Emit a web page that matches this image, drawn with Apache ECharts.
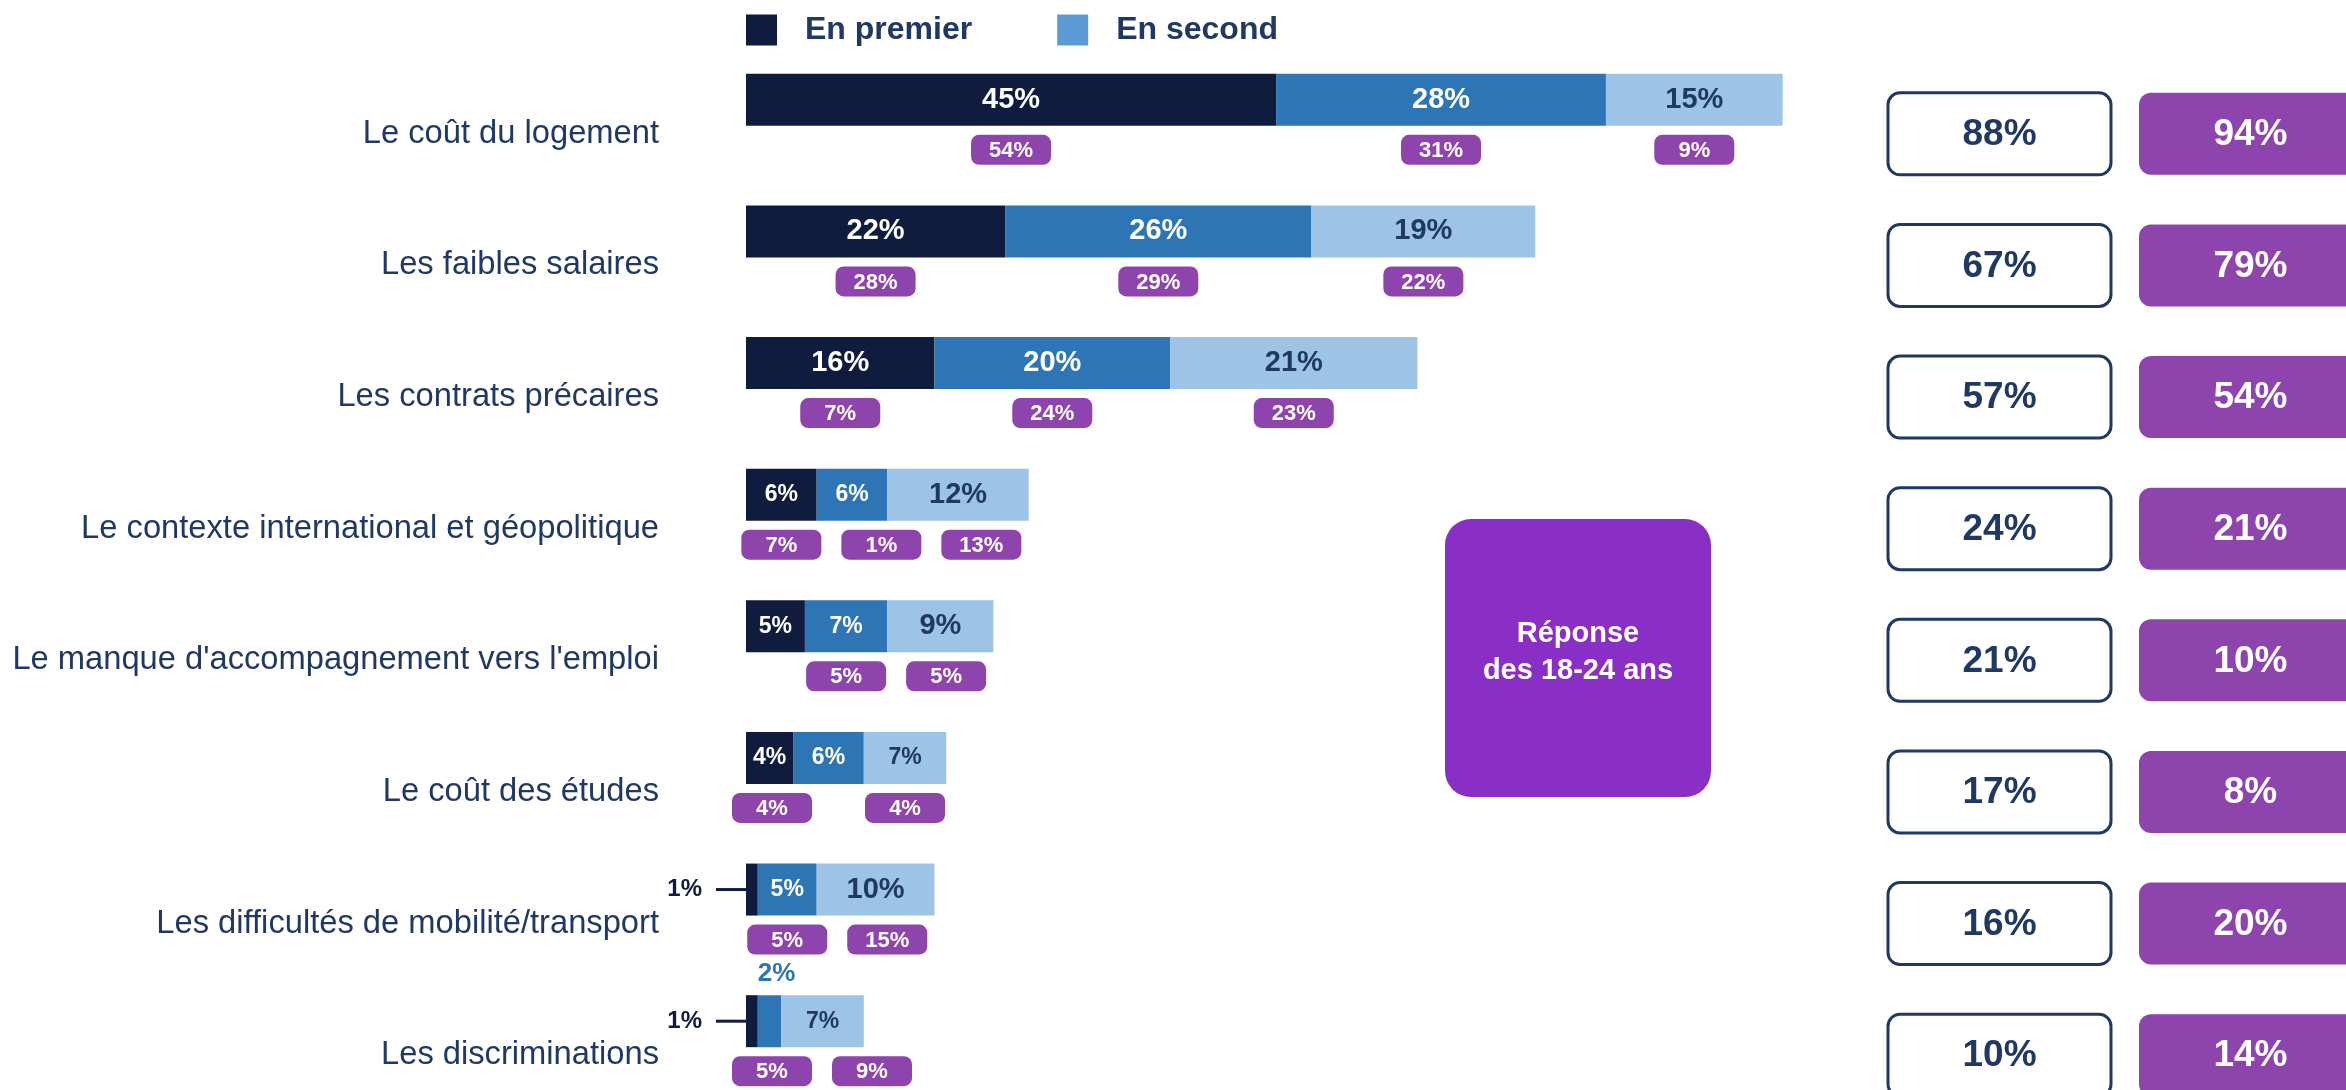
<!DOCTYPE html>
<html><head><meta charset="utf-8">
<script src="https://cdn.jsdelivr.net/npm/echarts@6/dist/echarts.min.js"></script>
<style>html,body{margin:0;padding:0;background:#fff}#chart{width:2346px;height:1090px}</style>
</head><body><div id="chart"></div>
<script>
// ---- data ----
const categories = [
  "Le coût du logement",
  "Les faibles salaires",
  "Les contrats précaires",
  "Le contexte international et géopolitique",
  "Le manque d'accompagnement vers l'emploi",
  "Le coût des études",
  "Les difficultés de mobilité/transport",
  "Les discriminations"
];
const seriesNames = ["En premier", "En second", "En troisième"];
const enPremier   = [45, 22, 16, 6, 5, 4, 1, 1];
const enSecond    = [28, 26, 20, 6, 7, 6, 5, 2];
const enTroisieme = [15, 19, 21, 12, 9, 7, 10, 7];
// Réponse des 18-24 ans (badges under each segment)
const jeunesPremier   = [54, 28, 7, 7, null, 4, null, null];
const jeunesSecond    = [31, 29, 24, 1, 5, null, 5, 5];
const jeunesTroisieme = [9, 22, 23, 13, 5, 4, 15, 9];
// Totals (right columns)
const totalColumns = ["Ensemble", "18-24 ans"];
const totalEnsemble = [88, 67, 57, 24, 21, 17, 16, 10];
const total1824     = [94, 79, 54, 21, 10, 8, 20, 14];
const noteText = "Réponse\ndes 18-24 ans";

// ---- styles ----
const FONT = "'Liberation Sans', Arial, Helvetica, sans-serif";
const NAVY_TEXT = "#203864";
const C1 = "#101C3E", C2 = "#2E75B6", C3 = "#9DC3E6", LEGEND2 = "#5B9BD5";
const PURPLE = "#8E44AD", NOTE_PURPLE = "#8A2FC6";
const ROW_DY = 34; // label / total boxes sit slightly below the bar

const segs = [enPremier, enSecond, enTroisieme];
const jeunes = [jeunesPremier, jeunesSecond, jeunesTroisieme];
const segColors = [C1, C2, C3];
const insideText = ["#ffffff", "#ffffff", NAVY_TEXT];

function segLabel(v, si) {
  if (v <= 1) {
    return {
      show: true, position: 'left', distance: 0,
      formatter: '{t|' + v + '%}{l|}',
      rich: {
        t: { fontFamily: FONT, fontSize: 24, fontWeight: 'bold', color: C1, padding: [0, 14, 0, 0], verticalAlign: 'middle' },
        l: { width: 30, height: 3, backgroundColor: C1, verticalAlign: 'middle' }
      }
    };
  }
  if (v <= 2) {
    return { show: true, position: 'top', distance: 8, offset: [7, 0], color: C2,
      fontFamily: FONT, fontSize: 26, fontWeight: 'bold', formatter: v + '%' };
  }
  return { show: true, position: 'inside', color: insideText[si],
    fontFamily: FONT, fontSize: v < 9 ? 23 : 29, fontWeight: 'bold', formatter: v + '%' };
}

const barSeries = segs.map((arr, si) => ({
  type: 'bar', name: seriesNames[si], stack: 'total',
  xAxisIndex: 0, yAxisIndex: 0,
  barWidth: 52,
  itemStyle: { color: segColors[si] },
  data: arr.map(v => ({ value: v, label: segLabel(v, si) })),
  z: 3
}));

const BADGE_W = 80, BADGE_H = 30, BADGE_GAP = 100, BADGE_DY = 50, BADGE_MIN = 26;
const badgeSeries = {
  type: 'custom', name: 'badges', xAxisIndex: 0, yAxisIndex: 0,
  data: categories.map((c, i) => [0, i]),
  encode: { x: 0, y: 1 },
  renderItem: function (params, api) {
    const row = api.value(1);
    const base = api.coord([0, row]);
    const y = base[1] + BADGE_DY;
    let cum = 0, prev = -Infinity;
    const children = [];
    for (let k = 0; k < 3; k++) {
      const s = segs[k][row];
      const c = cum + s / 2;
      cum += s;
      const v = jeunes[k][row];
      if (v == null) continue;
      let x = api.coord([c, row])[0];
      x = Math.max(x, prev + BADGE_GAP, base[0] + BADGE_MIN);
      prev = x;
      children.push({
        type: 'rect',
        shape: { x: x - BADGE_W / 2, y: y - BADGE_H / 2, width: BADGE_W, height: BADGE_H, r: 8 },
        style: { fill: PURPLE }
      });
      children.push({
        type: 'text',
        style: { x: x, y: y + 1, text: v + '%', fill: '#fff', font: 'bold 22px ' + FONT, align: 'center', verticalAlign: 'middle' }
      });
    }
    return { type: 'group', children: children };
  }
};

const boxData = [];
categories.forEach((c, i) => { boxData.push([0, i, totalEnsemble[i]]); boxData.push([1, i, total1824[i]]); });
const BOX_W = 223, BOX_H = 82;
const boxSeries = {
  type: 'custom', name: 'totaux', xAxisIndex: 1, yAxisIndex: 1,
  data: boxData, encode: { x: 0, y: 1 },
  renderItem: function (params, api) {
    const col = api.value(0), row = api.value(1), v = api.value(2);
    const p = api.coord([col, row]);
    const cy = p[1] + ROW_DY;
    const outlined = col === 0;
    return {
      type: 'group', children: [
        { type: 'rect', shape: { x: p[0] - BOX_W / 2, y: cy - BOX_H / 2, width: BOX_W, height: BOX_H, r: 12 },
          style: outlined ? { fill: '#fff', stroke: NAVY_TEXT, lineWidth: 3 } : { fill: PURPLE } },
        { type: 'text', style: { x: p[0], y: cy + 1, text: v + '%', fill: outlined ? NAVY_TEXT : '#fff',
          font: 'bold 37px ' + FONT, align: 'center', verticalAlign: 'middle' } }
      ]
    };
  }
};

const chart = echarts.init(document.getElementById('chart'), null, { renderer: 'canvas' });
chart.setOption({
  animation: false,
  backgroundColor: '#fff',
  legend: {
    left: 746, top: 14, padding: 0, icon: 'rect',
    itemWidth: 31, itemHeight: 31, itemGap: 85,
    data: [{ name: seriesNames[0] }, { name: seriesNames[1], itemStyle: { color: LEGEND2 } }],
    textStyle: { fontFamily: FONT, fontSize: 32, fontWeight: 'bold', color: NAVY_TEXT, padding: [0, 0, 0, 23] }
  },
  grid: [
    { left: 746, top: 34, width: 1178, height: 1053, containLabel: false },
    { left: 1874, top: 34, width: 472, height: 1053, containLabel: false }
  ],
  xAxis: [
    { type: 'value', gridIndex: 0, min: 0, max: 100, show: false },
    // column index axis: one column = 251 px
    { type: 'value', gridIndex: 1, min: -0.5, max: 1.3805, show: false }
  ],
  yAxis: [
    { type: 'category', gridIndex: 0, inverse: true, data: categories,
      axisLine: { show: false }, axisTick: { show: false }, splitLine: { show: false },
      axisLabel: { margin: 87, interval: 0, showMinLabel: true, showMaxLabel: true, hideOverlap: false,
        fontFamily: FONT, fontSize: 32.7, color: NAVY_TEXT, lineHeight: ROW_DY * 2,
        formatter: function (v) { return '\n' + v; } } },
    { type: 'category', gridIndex: 1, inverse: true, data: categories, show: false }
  ],
  graphic: [{
    type: 'group', left: 1445, top: 519,
    children: [
      { type: 'rect', shape: { x: 0, y: 0, width: 266, height: 278, r: 26 }, style: { fill: NOTE_PURPLE } },
      { type: 'text', x: 133, y: 133, style: { text: noteText, fill: '#fff', font: 'bold 29px ' + FONT,
        align: 'center', verticalAlign: 'middle', lineHeight: 37 } }
    ]
  }],
  series: barSeries.concat([badgeSeries, boxSeries])
});
</script>
</body></html>
